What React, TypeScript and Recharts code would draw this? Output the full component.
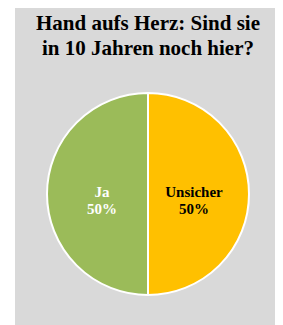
import React from 'react';
import { PieChart, Pie, Cell } from 'recharts';

const categories = ['Ja', 'Unsicher'];
const shares = [50, 50];
const colors = ['#9BBB59', '#FFC000'];
const labelColors = ['#ffffff', '#000000'];

const data = categories.map((name, i) => ({ name, value: shares[i] }));

const RAD = Math.PI / 180;

const renderLabel = (props: any) => {
    const { cx, cy, midAngle, outerRadius, index, percent } = props;
    const r = outerRadius * 0.455;
    const x = cx + r * Math.cos(-midAngle * RAD);
    const y = cy + r * Math.sin(-midAngle * RAD);
    return (
        <text
            x={x}
            y={y}
            textAnchor="middle"
            fill={labelColors[index]}
            fontFamily='"Liberation Serif", "Times New Roman", serif'
            fontWeight="bold"
            fontSize={15}
        >
            <tspan x={x} dy={3}>{categories[index]}</tspan>
            <tspan x={x} dy={17}>{Math.round(percent * 100)}%</tspan>
        </text>
    );
};

const App: React.FC = () => {
    return (
        <div style={{ position: 'relative', marginLeft: 7, width: 266, height: 317, background: '#d9d9d9' }}>
            <div
                style={{
                    position: 'absolute',
                    top: 3,
                    left: 0,
                    width: 266,
                    textAlign: 'center',
                    fontFamily: '"Liberation Serif", "Times New Roman", serif',
                    fontWeight: 'bold',
                    fontSize: 21,
                    lineHeight: '25px',
                    color: '#000',
                }}
            >
                Hand aufs Herz: Sind sie<br />in 10 Jahren noch hier?
            </div>
            <PieChart width={266} height={317} margin={{ top: 0, right: 0, bottom: 0, left: 0 }}>
                <Pie
                    data={data}
                    dataKey="value"
                    nameKey="name"
                    cx={133}
                    cy={186}
                    outerRadius={101}
                    startAngle={90}
                    endAngle={450}
                    stroke="#ffffff"
                    strokeWidth={2}
                    label={renderLabel}
                    labelLine={false}
                    isAnimationActive={false}
                >
                    {data.map((d, i) => (
                        <Cell key={d.name} fill={colors[i]} />
                    ))}
                </Pie>
            </PieChart>
        </div>
    );
};

export default App;
